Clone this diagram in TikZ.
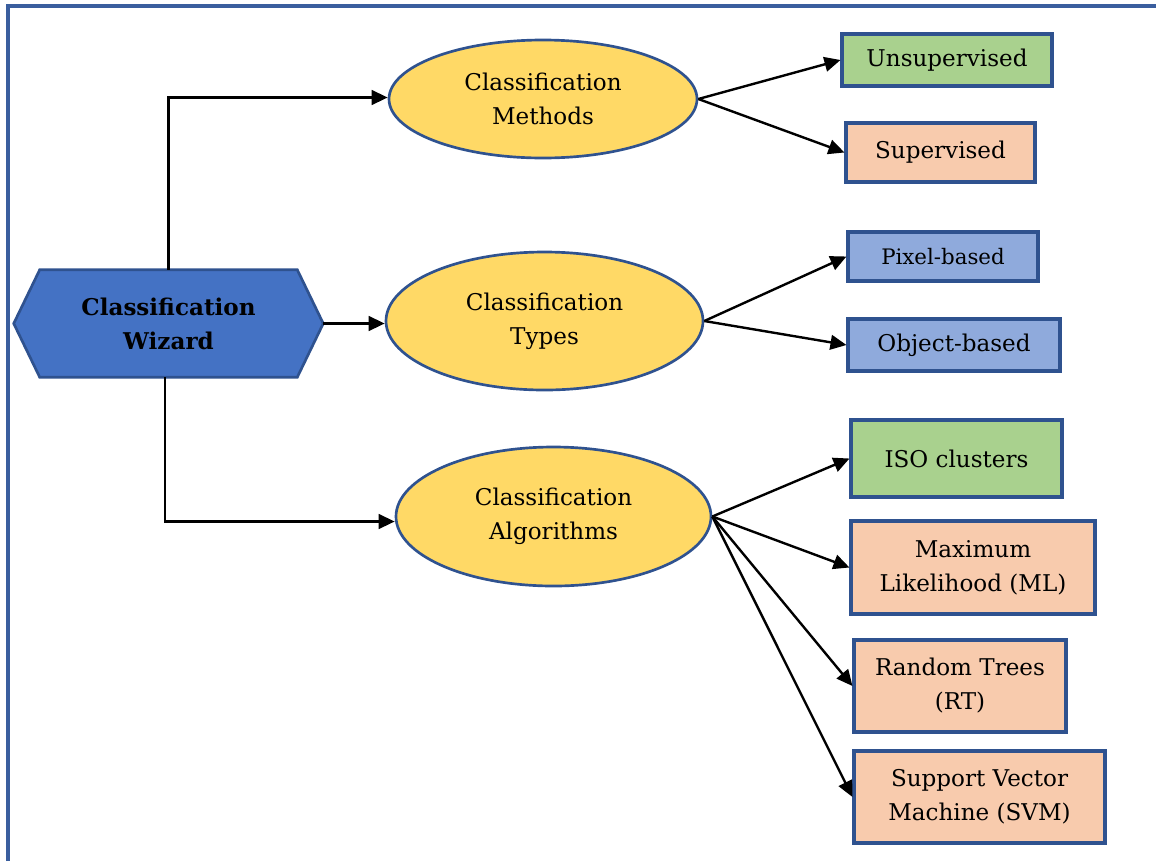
\documentclass[tikz,border=0pt]{standalone}
\usepackage{fontspec}
\setmainfont{DejaVu Serif}
\usetikzlibrary{arrows.meta,shapes.geometric,backgrounds}
\newdimen\px \px=0.75pt
\definecolor{edgeblue}{HTML}{2F528F}
\definecolor{framecol}{HTML}{3A5E9E}
\definecolor{hexfill}{HTML}{4472C4}
\definecolor{ovalfill}{HTML}{FFD966}
\definecolor{greenfill}{HTML}{A9D18E}
\definecolor{peachfill}{HTML}{F8CBAD}
\definecolor{bluefill}{HTML}{8FAADC}
\tikzset{
  txt/.style={font=\fontsize{17.3pt}{25.5pt}\selectfont, align=center, text=black},
  oval/.style={ellipse, draw=edgeblue, line width=2pt, fill=ovalfill, inner sep=0pt, txt},
  leaf/.style={rectangle, draw=edgeblue, line width=2.3pt, inner sep=0pt, txt},
  conn/.style={line width=1.8pt, -{Triangle[length=12pt,width=11pt]}},
}
\begin{document}
\begin{tikzpicture}[x=0.75pt,y=-0.75pt]
\useasboundingbox (0,0) rectangle (1156,861);
% outer frame: only the left and top edges fall inside the page
\draw[framecol, line width=2.4pt] (8,861) -- (8,6) -- (1156,6);

% central hexagon
\node[txt, font=\fontsize{17.3pt}{25.5pt}\selectfont\bfseries, minimum width=309\px, minimum height=107\px, inner sep=0pt] (wiz) at (168.5,323.5) {Classification\\Wizard};
\begin{scope}[on background layer]
\draw[draw=edgeblue, line width=2pt, fill=hexfill, line join=miter]
  (wiz.west) -- ([xshift=26\px]wiz.north west) -- ([xshift=-26\px]wiz.north east)
  -- (wiz.east) -- ([xshift=-26\px]wiz.south east) -- ([xshift=26\px]wiz.south west) -- cycle;
\end{scope}

% second level
\node[oval, minimum width=308\px, minimum height=118\px] (meth) at (543,99) {Classification\\Methods};
\node[oval, minimum width=317\px, minimum height=138\px] (type) at (544.5,321) {Classification\\Types};
\node[oval, minimum width=315\px, minimum height=139\px] (algo) at (553.5,516.5) {Classification\\Algorithms};

% leaves
\node[leaf, fill=greenfill, minimum width=210\px, minimum height=52\px] (uns) at (947,60) {Unsupervised};
\node[leaf, fill=peachfill, minimum width=189\px, minimum height=59\px] (sup) at (940.5,152.5) {Supervised};
\node[leaf, fill=bluefill, minimum width=190\px, minimum height=49\px, font=\fontsize{16pt}{22pt}\selectfont] (pix) at (943,256.5) {Pixel-based};
\node[leaf, fill=bluefill, minimum width=212\px, minimum height=52\px] (obj) at (954,345) {Object-based};
\node[leaf, fill=greenfill, minimum width=211\px, minimum height=77\px] (iso) at (956.5,458.5) {ISO clusters};
\node[leaf, fill=peachfill, minimum width=244\px, minimum height=93\px] (ml) at (973,567.5) {Maximum\\Likelihood (ML)};
\node[leaf, fill=peachfill, minimum width=212\px, minimum height=92\px] (rt) at (960,686) {Random Trees\\(RT)};
\node[leaf, fill=peachfill, minimum width=251\px, minimum height=92\px] (svm) at (979.5,797) {Support Vector\\Machine (SVM)};

% connectors from the wizard
\draw[conn] (wiz.north) |- ([yshift=1.5\px]meth.west);
\draw[conn] (wiz.east) -- (wiz.east -| type.west);
\draw[conn] ([xshift=-3.5\px]wiz.south) |- ([yshift=-5\px]algo.west);

% connectors to the leaves
\draw[conn] (meth.east) -- (uns.west);
\draw[conn] (meth.east) -- (sup.west);
\draw[conn] (type.east) -- (pix.west);
\draw[conn] (type.east) -- (obj.west);
\draw[conn] (algo.east) -- (iso.west);
\draw[conn] (algo.east) -- (ml.west);
\draw[conn] (algo.east) -- (rt.west);
\draw[conn] (algo.east) -- (svm.west);
\end{tikzpicture}
\end{document}
